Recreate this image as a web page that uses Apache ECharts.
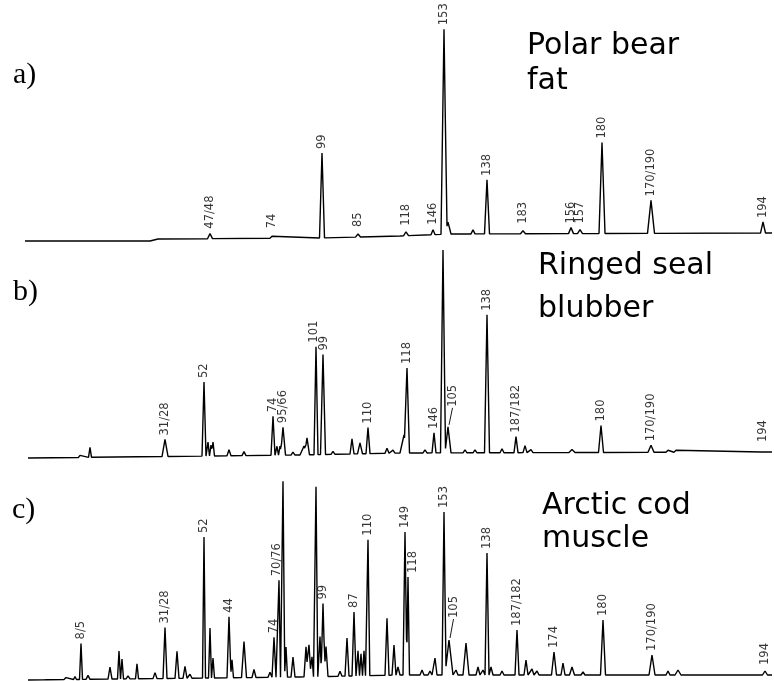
<!DOCTYPE html>
<html><head><meta charset="utf-8">
<script src="https://cdn.jsdelivr.net/npm/echarts@6/dist/echarts.min.js"></script>
<style>html,body{margin:0;padding:0;background:#fff}#c{width:774px;height:681px}</style>
</head><body><div id="c"></div>
<script>
// ---------- Panel a) Polar bear fat ----------
const aPeakPos    = [210, 272, 322, 358, 406, 433, 444, 448, 473, 487, 523, 571, 580, 602, 651, 763];
const aPeakHeight = [5,   2,   85,  3,   4,   5,   205, 12,  4,   54,  3,   6,   4,   91,  33,  11];
const aPeakWidth  = [2.5, 2,   2.5, 2.5, 2.5, 2,   3,   3,   2,   2.5, 2.5, 2.5, 2.5, 3,   3.5, 2.5];
const aBaseX = [25, 150, 158, 320, 400, 450, 772];
const aBaseY = [-4, -4,  -2,  -1,  1,   3,   4];
const aLabelText = ['47/48','74','99','85','118','146','153','138','183','156','157','180','170/190','194'];
const aLabelPos  = [210, 272, 322, 358, 406, 433, 444, 487, 523, 571, 580, 602, 651, 763];

// ---------- Panel b) Ringed seal blubber ----------
const bPeakPos    = [80, 90, 165, 204, 208, 211, 213, 229, 244, 273, 277, 280, 283, 293, 304, 307, 316, 323, 333, 352, 360, 368, 387, 393, 404, 407, 425, 434, 443, 448, 465, 475, 487, 502, 516, 525, 531, 572, 601, 651, 668, 676, 763];
const bPeakHeight = [2,  10, 17,  74,  14,  11,  14,  6,   4,   39,  9,   9,   28,  3,   9,   17,  108, 100, 3,   15,  11,  26,  5,   3,   18,  85,  3,   20,  203, 26,  3,   3,   138, 4,   16,  7,   3,   3,   27,  7,   2,   2,   1];
const bPeakWidth  = [1.5,1.5,3,   2,   1.5, 1.5, 1.5, 2,   2,   2,   1.5, 1.5, 2.5, 2,   2,   2.5, 2,   2.5, 2,   2,   2.5, 2,   2,   2,   3,   2.5, 2,   2,   2.5, 3,   2,   2,   2.5, 2,   2,   2,   2,   3,   2.5, 3,   2,   2,   2];
const bBaseX = [28, 300, 400, 772];
const bBaseY = [-3, 0,   2,   3];
const bLabelText = ['31/28','52','74','95/66','101','99','110','118','146','105','138','187/182','180','170/190','194'];
const bLabelPos  = [165, 204, 273, 283, 316, 323, 368, 407, 434, 448, 487, 516, 601, 651, 763];

// ---------- Panel c) Arctic cod muscle ----------
const cPeakPos    = [45, 66, 75, 81, 88, 110, 119, 122, 128, 137, 155, 165, 177, 185, 190, 204, 210, 213, 229, 232, 244, 254, 270, 274, 279, 283, 286, 293, 306, 309, 312, 316, 320, 323, 326, 340, 347, 354, 358, 361, 364, 368, 387, 394, 398, 405, 408, 422, 430, 435, 444, 449, 456, 466, 478, 483, 487, 491, 502, 517, 526, 532, 537, 554, 563, 572, 583, 592, 603, 622, 652, 668, 678, 765];
const cPeakHeight = [1,  2,  3,  36, 4,  12,  28,  20,  3,   15,  6,   51,  27,  12,  4,   141, 50,  20,  61,  18,  36,  8,   5,   40,  97,  196, 30,  20,  30,  32,  20,  190, 40,  73,  30,  5,   38,  64,  25,  22,  25,  136, 57,  30,  8,   143, 98,  5,   4,   17,  163, 35,  5,   32,  8,   5,   122, 8,   4,   45,  15,  6,   4,   23,  12,  8,   3,   2,   55,  2,   20,  4,   5,   4];
const cPeakWidth  = [2,  2,  1.5,1.5,2,  2,   1.5, 1.5, 2,   1.5, 2,   2,   2,   2,   2,   1.5, 1.5, 1.5, 2,   1.5, 2.5, 2,   2,   2,   1.5, 1.8, 1.5, 2,   2,   2,   1.5, 1.8, 1.5, 2,   2,   2,   2,   2,   1.5, 1.5, 1.5, 1.8, 2,   2,   2,   2,   1.5, 2,   2,   2,   2,   4,   2,   3,   2,   2,   2,   2,   2,   2,   2,   2,   2,   2.5, 2,   2.5, 2,   2,   2.5, 2,   3,   2,   3,   2.5];
const cBaseX = [28, 300, 400, 772];
const cBaseY = [-2, 1,   3,   3];
const cLabelText = ['8/5','31/28','52','44','74','70/76','99','87','110','149','118','153','105','138','187/182','174','180','170/190','194'];
const cLabelPos  = [81, 165, 204, 229, 274, 279, 323, 354, 368, 405, 408, 444, 449, 487, 517, 554, 603, 652, 765];

// label nudges (layout only): [dx, dy]
const labelNudge = {'b:105':[5,16], 'c:105':[5,18], 'c:118':[5,0], 'c:70/76':[-2,0], 'b:101':[-1.5,0], 'b:99':[1.5,0]};

const panels = [
  {id:'a', pos:aPeakPos, h:aPeakHeight, w:aPeakWidth, bx:aBaseX, by:aBaseY, lt:aLabelText, lp:aLabelPos, top:7,   height:240, min:-10, max:230},
  {id:'b', pos:bPeakPos, h:bPeakHeight, w:bPeakWidth, bx:bBaseX, by:bBaseY, lt:bLabelText, lp:bLabelPos, top:240, height:225, min:-10, max:215},
  {id:'c', pos:cPeakPos, h:cPeakHeight, w:cPeakWidth, bx:cBaseX, by:cBaseY, lt:cLabelText, lp:cLabelPos, top:473, height:208, min:-3,  max:205}
];

function baseAt(P, x){
  const bx=P.bx, by=P.by;
  if (x<=bx[0]) return by[0];
  for (let i=1;i<bx.length;i++){
    if (x<=bx[i]) return by[i-1]+(by[i]-by[i-1])*(x-bx[i-1])/(bx[i]-bx[i-1]);
  }
  return by[by.length-1];
}
function signal(P, x){
  let v = baseAt(P,x);
  for (let i=0;i<P.pos.length;i++){
    const d=Math.abs(x-P.pos[i]);
    if (d<P.w[i]) v += P.h[i]*(1-d/P.w[i]);
  }
  return v;
}
function trace(P){
  const start=P.bx[0], end=P.bx[P.bx.length-1];
  const s=new Set(P.bx.map(v=>+v.toFixed(3)));
  P.pos.forEach((p,i)=>{[p-P.w[i],p,p+P.w[i]].forEach(v=>s.add(+v.toFixed(3)));});
  return [...s].filter(x=>x>=start&&x<=end).sort((a,b)=>a-b).map(x=>[x, signal(P,x)]);
}

const grids=[], xAxes=[], yAxes=[], series=[];
panels.forEach((P,k)=>{
  grids.push({left:0, right:0, top:P.top, height:P.height});
  xAxes.push({type:'value', gridIndex:k, min:0, max:774, show:false});
  yAxes.push({type:'value', gridIndex:k, min:P.min, max:P.max, show:false});
  series.push({type:'line', xAxisIndex:k, yAxisIndex:k, data:trace(P), showSymbol:false, symbol:'none',
    lineStyle:{color:'#000', width:1.4}, silent:true, animation:false});
  const labs=[];
  P.lt.forEach((t,i)=>{
    const x=P.lp[i];
    const nd=labelNudge[P.id+':'+t]||[0,0];
    const sig=signal(P,x), base=baseAt(P,x);
    let y=Math.max(sig+4, base+10)+nd[1];
    labs.push({name:t, value:[x+nd[0], y]});
    if (nd[1]>0){
      series.push({type:'line', xAxisIndex:k, yAxisIndex:k, data:[[x+nd[0]-0.5,y-1],[x+1,sig+2]],
        showSymbol:false, symbol:'none', lineStyle:{color:'#000', width:0.9}, silent:true, animation:false});
    }
  });
  series.push({type:'scatter', xAxisIndex:k, yAxisIndex:k, data:labs, symbolSize:1,
    itemStyle:{color:'rgba(0,0,0,0)'}, animation:false, silent:true,
    label:{show:true, formatter:'{b}', position:'inside', rotate:90, align:'left', verticalAlign:'middle',
      fontFamily:'DejaVu Sans', fontSize:11.5, color:'#000'}});
});

const titleFont='30px "DejaVu Sans"';
const serifFont='30px "Liberation Serif"';
function txt(x,y,t,font){return {type:'text', x:x, y:y, style:{text:t, font:font, fill:'#000', align:'left', verticalAlign:'middle'}};}

const chart=echarts.init(document.getElementById('c'), null, {renderer:'canvas'});
chart.setOption({
  backgroundColor:'#fff',
  animation:false,
  grid:grids, xAxis:xAxes, yAxis:yAxes, series:series,
  graphic:[
    txt(13, 75, 'a)', serifFont),
    txt(13, 292, 'b)', serifFont),
    txt(12, 510, 'c)', serifFont),
    txt(527, 46.6, 'Polar bear', titleFont),
    txt(527, 81.6, 'fat', titleFont),
    txt(538, 266.6, 'Ringed seal', titleFont),
    txt(538, 309.6, 'blubber', titleFont),
    txt(542, 506.6, 'Arctic cod', titleFont),
    txt(542, 539.6, 'muscle', titleFont)
  ]
});
</script></body></html>
